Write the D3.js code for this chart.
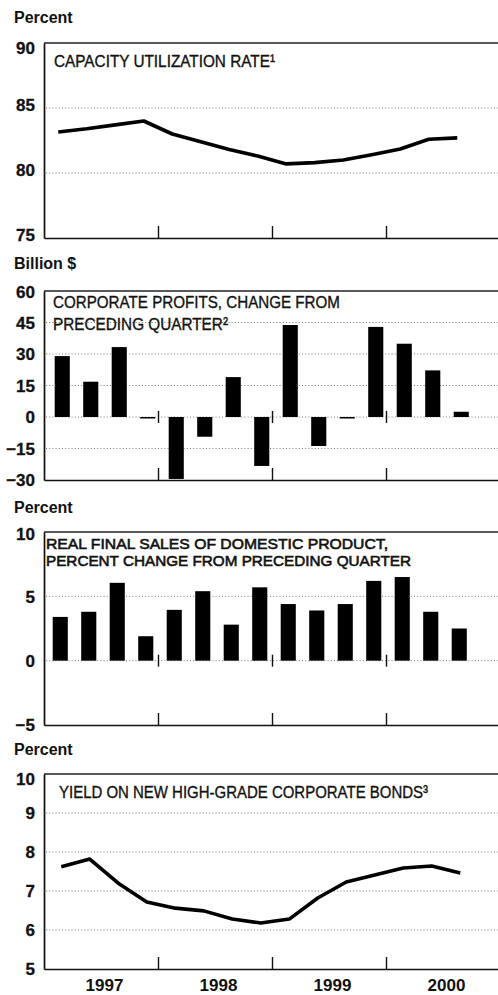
<!DOCTYPE html>
<html><head><meta charset="utf-8">
<script src="https://cdn.jsdelivr.net/npm/d3@7"></script>
<style>html,body{margin:0;padding:0;background:#fff;}svg{display:block}</style>
</head><body><div id="chart"></div>
<script>
// ---------- data ----------
const quarters = ["1997Q1","1997Q2","1997Q3","1997Q4","1998Q1","1998Q2","1998Q3","1998Q4",
                  "1999Q1","1999Q2","1999Q3","1999Q4","2000Q1","2000Q2","2000Q3"];
const years = ["1997","1998","1999","2000"];
const capacityUtilization = [83.15,83.4,83.7,84.0,83.0,82.4,81.8,81.3,80.7,80.8,81.0,81.4,81.85,82.6,82.7];
const profitsChange = [29.0,16.8,33.3,-0.7,-29.5,-9.4,19.0,-23.3,43.8,-13.8,-0.5,42.9,34.9,22.2,2.5];
const realFinalSales = [3.4,3.8,6.05,1.9,3.95,5.4,2.8,5.7,4.4,3.9,4.4,6.2,6.5,3.8,2.5];
const bondYield = [7.62,7.82,7.2,6.72,6.56,6.49,6.28,6.18,6.28,6.82,7.23,7.41,7.59,7.64,7.46];
const ticksCapacity = [75,80,85,90];
const ticksProfits = [-30,-15,0,15,30,45,60];
const ticksSales = [-5,0,5,10];
const ticksYield = [5,6,7,8,9,10];
const unitLabels = ["Percent","Billion $","Percent","Percent"];

// ---------- layout ----------
const W = 498, H = 995;
const svg = d3.select("#chart").append("svg").attr("width", W).attr("height", H);
const x = d3.scaleLinear().domain([0, 16]).range([44, 500]);
const bold = "'Liberation Sans', Arial, Helvetica, sans-serif";
const narrow = "'Liberation Sans Narrow', 'Arial Narrow', 'Liberation Sans', Arial, sans-serif";

function panel(cfg) {
  const g = svg.append("g");
  const y = d3.scaleLinear().domain(cfg.domain).range([cfg.bottom, cfg.top]);

  // unit label
  g.append("text").attr("x", 14).attr("y", cfg.unitY).text(cfg.unit)
    .attr("font-family", bold).attr("font-weight", "bold").attr("font-size", 16).attr("fill", "#111");

  // gridlines
  g.selectAll("line.grid").data(cfg.grid).join("line").attr("class", "grid")
    .attr("x1", 46).attr("x2", W).attr("y1", d => y(d)).attr("y2", d => y(d))
    .attr("stroke", "#555").attr("stroke-width", 0.8).attr("stroke-dasharray", "1,2.2");

  // top border
  g.append("line").attr("x1", 44).attr("x2", W).attr("y1", cfg.top).attr("y2", cfg.top)
    .attr("stroke", "#222").attr("stroke-width", 1.4);

  // left axis with labels
  const ay = g.append("g").attr("transform", "translate(44,0)")
    .call(d3.axisLeft(y).tickValues(cfg.ticks).tickSize(0).tickPadding(9).tickFormat(d3.format("d")));
  ay.select(".domain").attr("stroke", "#111").attr("stroke-width", 1.7);
  ay.selectAll("text").attr("font-family", bold).attr("font-weight", "bold")
    .attr("font-size", 17).attr("fill", "#111")
    .attr("stroke", "#111").attr("stroke-width", 0.3)
    .attr("dy", "0.35em")
    .attr("transform", d => {
      let s = cfg.labelShift;
      if (d === cfg.domain[1]) s += cfg.topShift;
      return `translate(0,${s})`;
    });

  // bottom axis line + year tick marks
  const ax = g.append("g").attr("transform", `translate(0,${cfg.bottom})`)
    .call(d3.axisBottom(x).tickValues([4, 8, 12]).tickSize(-12).tickSizeOuter(0).tickFormat(""));
  ax.select(".domain").attr("stroke", "#111").attr("stroke-width", 1.7);
  ax.selectAll(".tick line").attr("stroke", "#111").attr("stroke-width", 1.4);

  if (cfg.zeroTicks) {
    const az = g.append("g").attr("transform", `translate(0,${y(0) + 6})`)
      .call(d3.axisBottom(x).tickValues([4, 8, 12]).tickSize(-12).tickFormat(""));
    az.select(".domain").remove();
    az.selectAll(".tick line").attr("stroke", "#111").attr("stroke-width", 1.4);
  }

  // title (footnote marker as a Unicode superscript in the same run)
  cfg.title.forEach(t => {
    g.append("text").attr("x", t.x).attr("y", t.y).text(t.text)
      .attr("font-family", narrow).attr("font-size", cfg.titleSize).attr("fill", "#111")
      .attr("stroke", "#111").attr("stroke-width", cfg.titleStroke)
      .attr("textLength", t.len).attr("lengthAdjust", "spacingAndGlyphs");
  });

  // marks
  if (cfg.type === "line") {
    const line = d3.line().x((d, i) => x(i + 0.5) + cfg.offset).y(d => y(d));
    g.append("path").datum(cfg.data).attr("d", line).attr("fill", "none")
      .attr("stroke", "#000").attr("stroke-width", 3.6).attr("stroke-linejoin", "round");
  } else {
    const bw = (x(1) - x(0)) * 0.53;
    g.selectAll("rect.bar").data(cfg.data).join("rect").attr("class", "bar")
      .attr("x", (d, i) => x(i + 0.5) + cfg.offset - bw / 2)
      .attr("width", bw)
      .attr("y", d => d >= 0 ? y(d) : y(0))
      .attr("height", d => Math.max(1.5, Math.abs(y(d) - y(0))))
      .attr("fill", "#000");
  }
  return y;
}

panel({
  type: "line", data: capacityUtilization, unit: unitLabels[0], unitY: 23,
  top: 43, bottom: 238, domain: [75, 90], ticks: ticksCapacity, grid: [80, 85],
  labelShift: -3, topShift: 8, offset: 0, titleSize: 17, titleStroke: 0.35,
  title: [{ text: "CAPACITY UTILIZATION RATE\u00B9", x: 54, y: 67, len: 221 }]
});

panel({
  type: "bar", data: profitsChange, unit: unitLabels[1], unitY: 269,
  top: 291, bottom: 480, domain: [-30, 60], ticks: ticksProfits, grid: [-15, 0, 15, 30, 45],
  labelShift: 0, topShift: 1, offset: 4, titleSize: 17, titleStroke: 0.35, zeroTicks: true,
  title: [{ text: "CORPORATE PROFITS, CHANGE FROM", x: 53, y: 308, len: 287 },
          { text: "PRECEDING QUARTER\u00B2", x: 53, y: 330, len: 175 }]
});

panel({
  type: "bar", data: realFinalSales, unit: unitLabels[2], unitY: 513,
  top: 532, bottom: 725, domain: [-5, 10], ticks: ticksSales, grid: [0, 5],
  labelShift: 0, topShift: 2, offset: 2, titleSize: 15, titleStroke: 0.6, zeroTicks: true,
  title: [{ text: "REAL FINAL SALES OF DOMESTIC PRODUCT,", x: 46, y: 549, len: 342 },
          { text: "PERCENT CHANGE FROM PRECEDING QUARTER", x: 46, y: 566, len: 365 }]
});

panel({
  type: "line", data: bondYield, unit: unitLabels[3], unitY: 755,
  top: 774, bottom: 969, domain: [5, 10], ticks: ticksYield, grid: [6, 7, 8, 9],
  labelShift: 0, topShift: 5, offset: 3, titleSize: 17, titleStroke: 0.35,
  title: [{ text: "YIELD ON NEW HIGH-GRADE CORPORATE BONDS\u00B3", x: 59, y: 798, len: 369 }]
});

// year labels
const axYears = svg.append("g").attr("transform", "translate(3,978)")
  .call(d3.axisBottom(x).tickValues([2, 6, 10, 14]).tickSize(0).tickPadding(0)
    .tickFormat(d => years[(d - 2) / 4]));
axYears.select(".domain").remove();
axYears.selectAll("text").attr("font-family", bold).attr("font-weight", "bold")
  .attr("font-size", 17).attr("fill", "#111").attr("dy", "0.75em");
</script>
</body></html>
